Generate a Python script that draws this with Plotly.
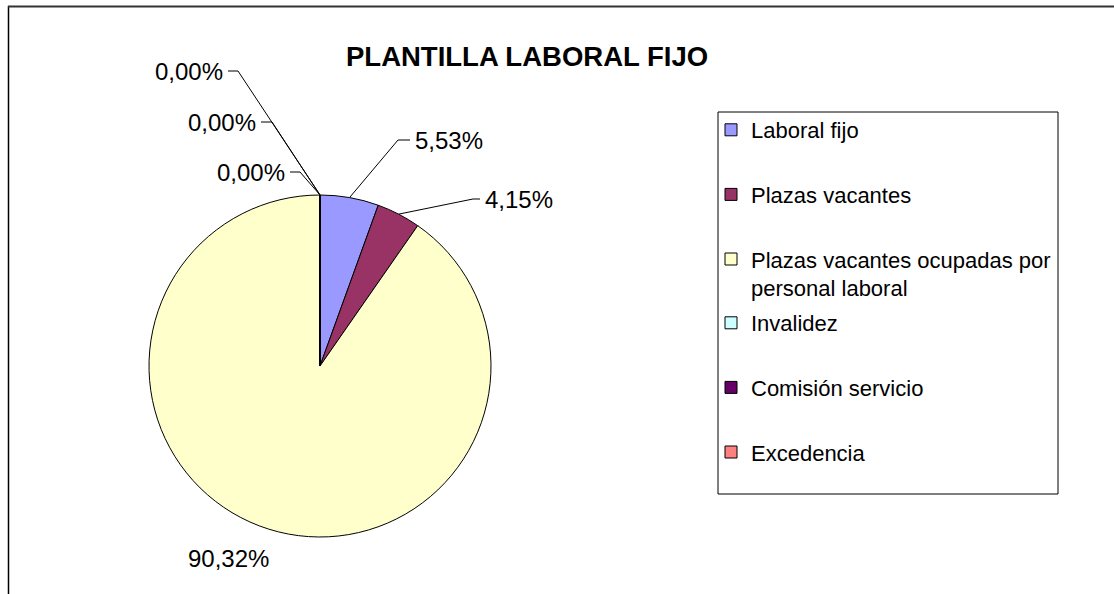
import math
import plotly.graph_objects as go

# ---------------- data ----------------
categories = ["Laboral fijo", "Plazas vacantes",
              "Plazas vacantes ocupadas por personal laboral",
              "Invalidez", "Comisión servicio", "Excedencia"]
legend_labels = ["Laboral fijo", "Plazas vacantes",
                 "Plazas vacantes ocupadas por<br>personal laboral",
                 "Invalidez", "Comisión servicio", "Excedencia"]
percentages = [5.53, 4.15, 90.32, 0.0, 0.0, 0.0]
colors = ["#9999FF", "#993366", "#FFFFCC", "#CCFFFF", "#660066", "#FF8080"]
chart_title = "PLANTILLA LABORAL FIJO"

# ---------------- layout geometry (pixels) ----------------
W, H = 1114, 594
CX, CY, R = 320, 366, 171
FONT = "Liberation Sans, Arial, sans-serif"

# label text anchor (x, y, xanchor) and leader elbow per slice
label_pos = [(413, 140, "left"), (483, 199, "left"), (228, 558, "center"),
             (287, 172, "right"), (258, 122, "right"), (225, 71, "right")]
elbows = [(398, 140), (473, 199), None, (300, 172), (272, 122), (238, 71)]
# legend: first three entries in legend 1, last three in legend 2
legend_tops = [109, 302]


def fmt(p):
    return f"{p:.2f}".replace(".", ",") + "%"


fig = go.Figure()

fig.add_trace(go.Pie(
    labels=categories, values=percentages, sort=False,
    direction="clockwise", rotation=0,
    marker=dict(colors=colors, line=dict(color="black", width=1)),
    textinfo="none", hoverinfo="label+percent", showlegend=False,
    domain=dict(x=[(CX - R) / W, (CX + R) / W],
                y=[1 - (CY + R) / H, 1 - (CY - R) / H]),
))

annotations = []
cum = 0.0
total = sum(percentages)
for i, p in enumerate(percentages):
    theta = 2 * math.pi * (cum + p / 2) / total
    ax = CX + R * math.sin(theta)
    ay = CY - R * math.cos(theta)
    cum += p
    tx, ty, anchor = label_pos[i]
    if elbows[i] is not None:
        ex, ey = elbows[i]
        hx = tx - 3 if anchor == "left" else tx + 3
        fig.add_trace(go.Scatter(
            x=[ax, ex, hx], y=[ay, ey, ey], mode="lines",
            line=dict(color="black", width=1),
            showlegend=False, hoverinfo="skip"))
    annotations.append(dict(
        x=tx, y=ty, xref="x", yref="y", text=fmt(p), showarrow=False,
        xanchor=anchor, yanchor="middle",
        font=dict(family=FONT, size=24, color="black")))

# legend entries
for i, (lab, c) in enumerate(zip(legend_labels, colors)):
    fig.add_trace(go.Scatter(
        x=[None], y=[None], mode="markers", name=lab,
        legendgroup=f"g{i}", legend="legend" if i < 3 else "legend2",
        marker=dict(symbol="square", size=12, color=c,
                    line=dict(color="black", width=1))))

annotations.append(dict(
    x=527, y=56, xref="x", yref="y", text=f"<b>{chart_title}</b>",
    showarrow=False, xanchor="center", yanchor="middle",
    font=dict(family=FONT, size=27.5, color="black")))

shapes = [
    dict(type="rect", xref="x", yref="y", x0=718, y0=112, x1=1058, y1=494,
         line=dict(color="black", width=1), layer="below"),
    dict(type="line", xref="x", yref="y", x0=8.5, y0=6, x1=8.5, y1=600,
         line=dict(color="black", width=1.5)),
    dict(type="line", xref="x", yref="y", x0=8, y0=6.5, x1=1120, y1=6.5,
         line=dict(color="#333333", width=2)),
]

legend_common = dict(x=711 / W, xanchor="left", yanchor="top",
                     font=dict(family=FONT, size=22, color="black"),
                     tracegroupgap=33, valign="top",
                     bgcolor="rgba(0,0,0,0)", borderwidth=0)

fig.update_layout(
    width=W, height=H, autosize=False,
    margin=dict(l=0, r=0, t=0, b=0),
    paper_bgcolor="white", plot_bgcolor="white",
    separators=",.",
    xaxis=dict(visible=False, range=[0, W], domain=[0, 1], fixedrange=True),
    yaxis=dict(visible=False, range=[H, 0], domain=[0, 1], fixedrange=True),
    showlegend=True,
    legend=dict(y=1 - legend_tops[0] / H, **legend_common),
    legend2=dict(y=1 - legend_tops[1] / H, **legend_common),
    annotations=annotations, shapes=shapes,
    font=dict(family=FONT),
)

fig.write_html("out.html",
               config={"displayModeBar": False},
               post_script="document.body.style.margin='0';"
                           "document.body.style.overflow='hidden';")
